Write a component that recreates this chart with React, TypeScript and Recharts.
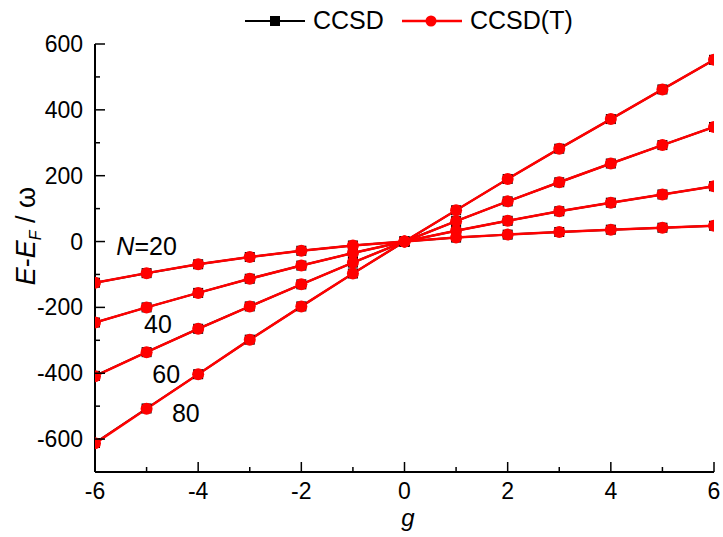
import React from 'react';
import { LineChart, Line, XAxis, YAxis, ReferenceDot } from 'recharts';

const FONT = 'Arial, "Liberation Sans", sans-serif';

// coupling strength g
const gValues = [-6, -5, -4, -3, -2, -1, 0, 1, 2, 3, 4, 5, 6];

// CCSD energies (E - E_F) per particle number
const ccsdN20 = [-125, -96, -69, -47, -28, -12, 0, 12, 21, 29, 36, 42, 48];
const ccsdN40 = [-246, -200, -156, -113, -73, -35, 0, 33, 63, 92, 118, 143, 168];
const ccsdN60 = [-408, -336, -265, -197, -130, -64, 0, 62, 122, 180, 237, 293, 348];
const ccsdN80 = [-612, -507, -403, -298, -197, -97, 0, 95, 190, 282, 372, 462, 552];

// CCSD(T) energies
const ccsdtN20 = [-125, -96, -69, -47, -28, -12, 0, 12, 21, 29, 36, 42, 48];
const ccsdtN40 = [-246, -200, -156, -113, -73, -35, 0, 33, 63, 92, 118, 143, 168];
const ccsdtN60 = [-409, -336, -265, -197, -130, -64, 0, 62, 122, 180, 237, 293, 348];
const ccsdtN80 = [-613, -508, -403, -298, -197, -97, 0, 95, 190, 282, 372, 462, 552];

const xTicks = [-6, -5, -4, -3, -2, -1, 0, 1, 2, 3, 4, 5, 6];
const yTicks = [-600, -500, -400, -300, -200, -100, 0, 100, 200, 300, 400, 500, 600];

// curve labels: [italic part, rest, g, energy]
const curveLabels: [string, string, number, number][] = [
  ['N', '=20', -5.0, -15],
  ['', '40', -4.78, -251],
  ['', '60', -4.62, -403],
  ['', '80', -4.24, -522],
];

const data = gValues.map((g, i) => ({
  g,
  c20: ccsdN20[i], c40: ccsdN40[i], c60: ccsdN60[i], c80: ccsdN80[i],
  t20: ccsdtN20[i], t40: ccsdtN40[i], t60: ccsdtN60[i], t80: ccsdtN80[i],
}));

const SquareDot = (props: any) => {
  const { cx, cy } = props;
  if (cx == null || cy == null) return <g />;
  return <rect x={cx - 5} y={cy - 5} width={10} height={10} fill="#000" />;
};

const CircleDot = (props: any) => {
  const { cx, cy } = props;
  if (cx == null || cy == null) return <g />;
  return <circle cx={cx} cy={cy} r={6} fill="#ff0000" />;
};

const BottomTick = ({ x, y, payload }: any) => {
  const major = payload.value % 2 === 0;
  return (
    <g>
      <line x1={x} y1={y} x2={x} y2={y - (major ? 10 : 5)} stroke="#000" strokeWidth={1.5} />
      {major && (
        <text x={x} y={y + 27} textAnchor="middle" fontSize={23} fontFamily={FONT} fill="#000">
          {payload.value}
        </text>
      )}
    </g>
  );
};

const TopTick = ({ x, y, payload }: any) => {
  const major = payload.value % 2 === 0;
  return <line x1={x} y1={y} x2={x} y2={y + (major ? 10 : 5)} stroke="#000" strokeWidth={1.5} />;
};

const LeftTick = ({ x, y, payload }: any) => {
  const major = payload.value % 200 === 0;
  return (
    <g>
      <line x1={x} y1={y} x2={x + (major ? 10 : 5)} y2={y} stroke="#000" strokeWidth={1.5} />
      {major && (
        <text x={x - 12} y={y + 8} textAnchor="end" fontSize={23} fontFamily={FONT} fill="#000">
          {payload.value}
        </text>
      )}
    </g>
  );
};

const RightTick = ({ x, y, payload }: any) => {
  const major = payload.value % 200 === 0;
  return <line x1={x} y1={y} x2={x - (major ? 10 : 5)} y2={y} stroke="#000" strokeWidth={1.5} />;
};

const LabelText = (italic: string, rest: string) => (props: any) => {
  const { cx, cy } = props;
  if (cx == null || cy == null) return <g />;
  return (
    <text x={cx} y={cy} textAnchor="middle" dominantBaseline="central" fontSize={25} fontFamily={FONT} fill="#000">
      {italic && <tspan fontStyle="italic">{italic}</tspan>}
      {rest}
    </text>
  );
};

export default function App() {
  return (
    <div style={{ position: 'absolute', left: 0, top: 0, width: 723, height: 537, background: '#fff' }}>
      <LineChart width={723} height={537} data={data} margin={{ top: 44, right: 9, bottom: 0, left: 0 }}>
        <XAxis
          xAxisId="top"
          orientation="top"
          dataKey="g"
          type="number"
          domain={[-6, 6]}
          allowDataOverflow
          ticks={xTicks}
          interval={0}
          height={0}
          tickSize={0}
          tickMargin={0}
          tickLine={false}
          tick={<TopTick />}
          axisLine={{ stroke: '#000', strokeWidth: 2 }}
        />
        <XAxis
          dataKey="g"
          type="number"
          domain={[-6, 6]}
          allowDataOverflow
          ticks={xTicks}
          interval={0}
          height={65}
          tickSize={0}
          tickMargin={0}
          tickLine={false}
          tick={<BottomTick />}
          axisLine={{ stroke: '#000', strokeWidth: 2 }}
        />
        <YAxis
          yAxisId="right"
          orientation="right"
          type="number"
          domain={[-700, 600]}
          allowDataOverflow
          ticks={yTicks}
          interval={0}
          width={0}
          tickSize={0}
          tickMargin={0}
          tickLine={false}
          tick={<RightTick />}
          axisLine={{ stroke: '#000', strokeWidth: 2 }}
        />
        <YAxis
          type="number"
          domain={[-700, 600]}
          allowDataOverflow
          ticks={yTicks}
          interval={0}
          width={95}
          tickSize={0}
          tickMargin={0}
          tickLine={false}
          tick={<LeftTick />}
          axisLine={{ stroke: '#000', strokeWidth: 2 }}
        />
        {['c20', 'c40', 'c60', 'c80'].map((k) => (
          <Line key={k} dataKey={k} stroke="#000" strokeWidth={2} dot={<SquareDot />} activeDot={false} isAnimationActive={false} />
        ))}
        {['t20', 't40', 't60', 't80'].map((k) => (
          <Line key={k} dataKey={k} stroke="#ff0000" strokeWidth={2.5} dot={<CircleDot />} activeDot={false} isAnimationActive={false} />
        ))}
        {curveLabels.map(([it, rest, g, v]) => (
          <ReferenceDot key={rest} x={g} y={v} r={0} ifOverflow="visible" shape={LabelText(it, rest)} />
        ))}
      </LineChart>
      <svg width={723} height={537} style={{ position: 'absolute', left: 0, top: 0, pointerEvents: 'none' }}>
        {/* legend */}
        <line x1={245} y1={21} x2={305} y2={21} stroke="#000" strokeWidth={2} />
        <rect x={270} y={16} width={10} height={10} fill="#000" />
        <text x={313} y={29} fontSize={25} fontFamily={FONT} fill="#000">CCSD</text>
        <line x1={402} y1={21} x2={462} y2={21} stroke="#ff0000" strokeWidth={2.5} />
        <circle cx={431} cy={21} r={5.5} fill="#ff0000" />
        <text x={470} y={29} fontSize={25} fontFamily={FONT} fill="#000">CCSD(T)</text>
        {/* axis titles */}
        <text x={408} y={526} textAnchor="middle" fontSize={24} fontStyle="italic" fontFamily={FONT} fill="#000">g</text>
        <text transform="translate(35,236) rotate(-90)" textAnchor="middle" fontSize={27} fontFamily={FONT} fill="#000">
          <tspan fontStyle="italic">E</tspan>-<tspan fontStyle="italic">E</tspan>
          <tspan fontStyle="italic" fontSize={16} dy={6}>F</tspan>
          <tspan dy={-6}> / ω</tspan>
        </text>
      </svg>
    </div>
  );
}
